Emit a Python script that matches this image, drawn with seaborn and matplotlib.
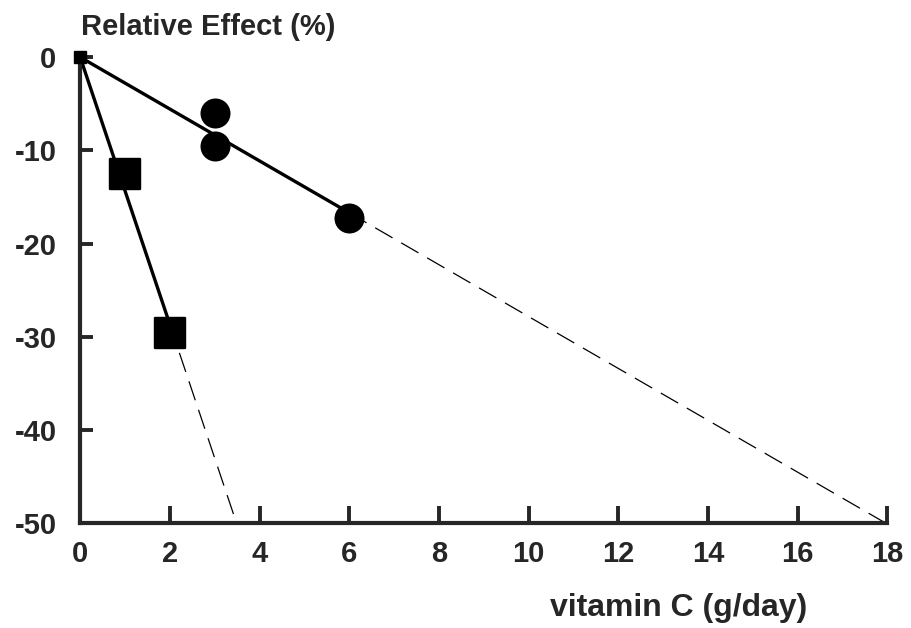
import numpy as np
import pandas as pd
import matplotlib.pyplot as plt
import seaborn as sns

# data
circle_dose = [3, 3, 6]
circle_effect = [-6.0, -9.5, -17.3]
square_dose = [1, 2]
square_effect = [-12.5, -29.6]
x_ticks = [0, 2, 4, 6, 8, 10, 12, 14, 16, 18]
y_ticks = [0, -10, -20, -30, -40, -50]

# fits through origin
k_circ = np.dot(circle_dose, circle_effect) / np.dot(circle_dose, circle_dose)
k_sq = np.dot(square_dose, square_effect) / np.dot(square_dose, square_dose)

sns.set_style("ticks")
plt.rcParams['font.family'] = ['Liberation Sans', 'DejaVu Sans']

fig = plt.figure(figsize=(9.11, 6.28), dpi=100)
ax = fig.add_axes([0.088, 0.167, 0.886, 0.742])

# solid part of fit lines
solid_c = pd.DataFrame({"x": [0, max(circle_dose)], "y": [0, k_circ * max(circle_dose)]})
solid_s = pd.DataFrame({"x": [0, max(square_dose)], "y": [0, k_sq * max(square_dose)]})
sns.lineplot(data=solid_c, x="x", y="y", color="black", lw=2.4, ax=ax)
sns.lineplot(data=solid_s, x="x", y="y", color="black", lw=2.4, ax=ax)

# dashed extrapolation to -50
dash_c = pd.DataFrame({"x": [max(circle_dose), -50 / k_circ], "y": [k_circ * max(circle_dose), -50]})
dash_s = pd.DataFrame({"x": [max(square_dose), -50 / k_sq], "y": [k_sq * max(square_dose), -50]})
sns.lineplot(data=dash_c, x="x", y="y", color="black", lw=0.9, ls=(0, (16, 8)), ax=ax)
sns.lineplot(data=dash_s, x="x", y="y", color="black", lw=0.9, ls=(0, (16, 8)), ax=ax)

sns.scatterplot(x=circle_dose, y=circle_effect, marker="o", s=400, color="black",
                edgecolor="black", ax=ax, zorder=5)
sns.scatterplot(x=square_dose, y=square_effect, marker="s", s=470, color="black",
                edgecolor="black", ax=ax, zorder=5)
ax.plot([0], [0], marker="s", ms=8, color="black", clip_on=False, zorder=6)

ax.set_xlim(0, 18)
ax.set_ylim(-50, 0)
ax.set_xticks(x_ticks)
ax.set_yticks(y_ticks)
ax.set_xticklabels([str(t) for t in x_ticks])
ax.set_yticklabels([str(t) for t in y_ticks])
ax.tick_params(axis="x", direction="in", length=12, width=2.8, labelsize=21, pad=12)
ax.tick_params(axis="y", direction="in", length=9, width=2.8, labelsize=21, pad=17)
for lab in ax.get_xticklabels() + ax.get_yticklabels():
    lab.set_fontweight("bold")

sns.despine(ax=ax)
for s in ["left", "bottom"]:
    ax.spines[s].set_linewidth(3)

ax.set_xlabel("")
ax.set_ylabel("")
fig.text(0.089, 0.957, "Relative Effect (%)", fontsize=21, fontweight="bold", va="center", ha="left")
fig.text(0.886, 0.032, "vitamin C (g/day)", fontsize=23, fontweight="bold", va="center", ha="right")

fig.savefig("out.png", dpi=100)
